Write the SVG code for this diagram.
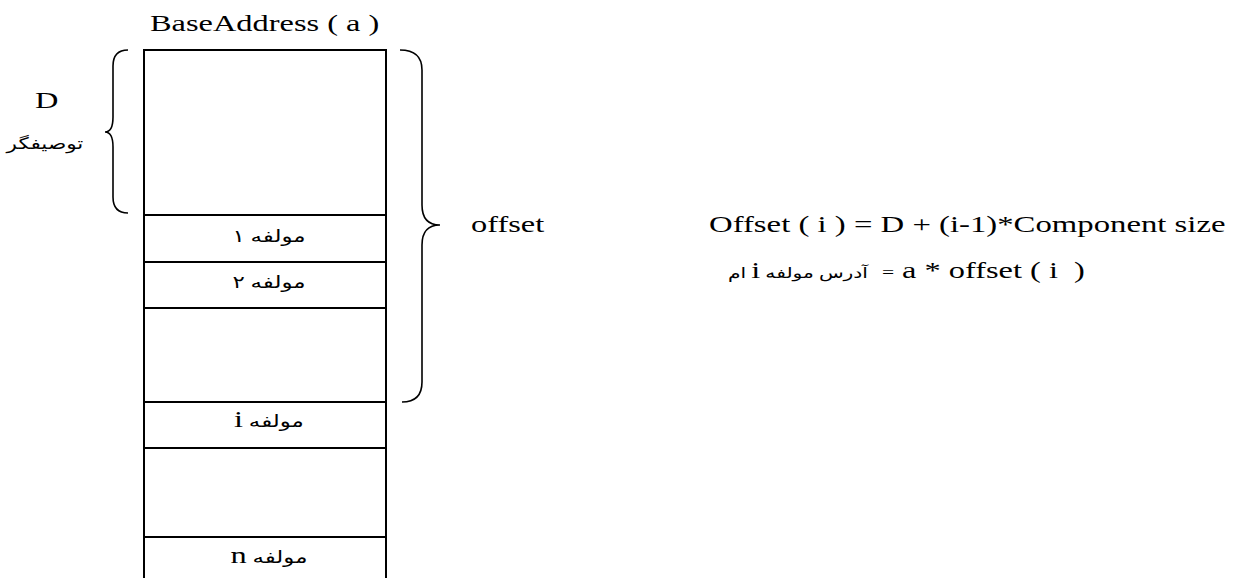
<svg xmlns="http://www.w3.org/2000/svg" width="1237" height="578" viewBox="0 0 1237 578">
<style>
.ln{stroke:#000;stroke-width:2;fill:none}
.br{stroke:#000;stroke-width:1.6;fill:none}
.lat{font-family:"Liberation Serif","Times New Roman",serif;font-size:24px;fill:#000}
.fa{font-family:"Liberation Serif","DejaVu Sans",sans-serif;font-size:17px;fill:#000}
.ii{font-family:"Liberation Serif","Times New Roman",serif;font-size:24px}
</style>
<rect width="1237" height="578" fill="#fff"/>
<g id="title"><text class="lat" transform="translate(150,31) scale(1.35,1)">BaseAddress ( a )</text></g>
<g id="memory">
<path class="ln" d="M144,578 V50 H386 V578"/>
<path class="ln" d="M144,215 H386 M144,262 H386 M144,308 H386 M144,402 H386 M144,448 H386 M144,537 H386"/>
</g>
<g id="row1"><text class="fa" transform="translate(269,242) scale(1.35,1)" text-anchor="middle" direction="rtl" unicode-bidi="embed">مولفه ۱</text></g>
<g id="row2"><text class="fa" transform="translate(269,288) scale(1.35,1)" text-anchor="middle" direction="rtl" unicode-bidi="embed">مولفه ۲</text></g>
<g id="rowi"><text class="fa" transform="translate(269,427) scale(1.35,1)" text-anchor="middle" direction="rtl" unicode-bidi="embed">مولفه <tspan class="ii">i</tspan></text></g>
<g id="rown"><text class="fa" transform="translate(269,563) scale(1.35,1)" text-anchor="middle" direction="rtl" unicode-bidi="embed">مولفه <tspan class="ii">n</tspan></text></g>
<g id="descriptor">
<path class="br" d="M128,50 Q113,50 113,66 L113,117 Q113,132 105,132 Q113,132 113,147 L113,197 Q113,213 128,213"/>
<text class="lat" transform="translate(35,108) scale(1.35,1)">D</text>
<text class="fa" transform="translate(45,149) scale(1.35,1)" style="font-size:16px" text-anchor="middle" direction="rtl" unicode-bidi="embed">توصیفگر</text>
</g>
<g id="offsetbrace">
<path class="br" d="M400,50 Q422,50 422,70 L422,205 Q422,225 440,225 Q422,225 422,245 L422,382 Q422,402 402,402"/>
<text class="lat" transform="translate(471,232) scale(1.35,1)">offset</text>
</g>
<g id="formula1"><text class="lat" transform="translate(709,232) scale(1.365,1)">Offset ( i ) = D + (i-1)*Component size</text></g>
<g id="formula2">
<text class="fa" transform="translate(798,278) scale(1.35,1)" style="font-size:15px" text-anchor="middle" direction="rtl" unicode-bidi="embed">آدرس مولفه <tspan class="ii">i</tspan> ام</text>
<text class="lat" transform="translate(882,278) scale(1.35,1)" style="font-size:16px">=</text>
<text class="lat" transform="translate(902,278) scale(1.35,1)">a * offset ( i</text>
<text class="lat" transform="translate(1074,278) scale(1.35,1)">)</text>
</g>
</svg>
